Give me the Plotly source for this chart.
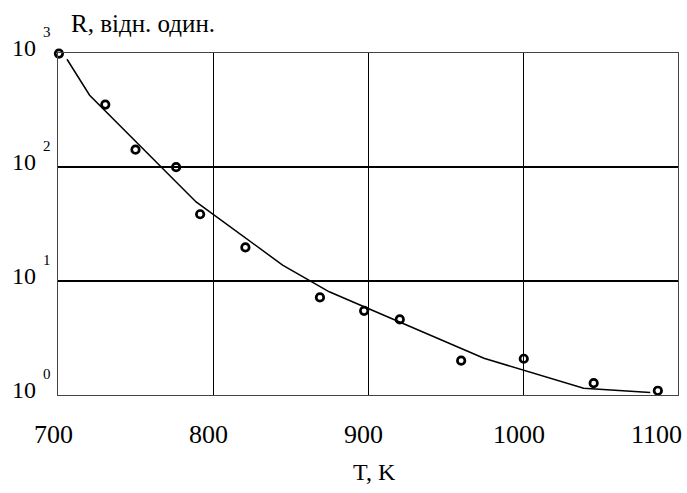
import math
import plotly.graph_objects as go

# measured points
T_meas = [700.6, 730.5, 750.0, 776.2, 791.7, 820.9, 869.0, 897.5, 920.5, 960.1, 1000.5, 1045.6, 1087.0]
R_meas = [988, 353, 142, 99.6, 38.5, 19.7, 7.18, 5.48, 4.6, 2.0, 2.08, 1.27, 1.09]
# fitted curve (polyline)
T_fit = [705.8, 720.4, 789.1, 844.9, 875.0, 974.8, 1039.1, 1082.1]
R_fit = [881, 426, 49.4, 13.8, 8.04, 2.10, 1.146, 1.05]

x_ticks = [700, 800, 900, 1000, 1100]
x_tick_labels = ["700", "800", "900", "1000", "1100"]
y_ticks = [1, 10, 100, 1000]
y_tick_base = ["10", "10", "10", "10"]
y_tick_exp = ["0", "1", "2", "3"]

FONT = "Liberation Serif"

fig = go.Figure()
fig.add_trace(go.Scatter(x=T_fit, y=R_fit, mode="lines",
                         line=dict(color="black", width=1.5), showlegend=False))
fig.add_trace(go.Scatter(x=T_meas, y=R_meas, mode="markers", cliponaxis=False,
                         marker=dict(symbol="circle-open", size=7.5, color="black",
                                     line=dict(color="black", width=2.7)),
                         showlegend=False))

annotations = []
for v, t in zip(x_ticks, x_tick_labels):
    last = (v == x_ticks[-1])
    annotations.append(dict(x=v, xref="x", y=-0.1154, yref="paper", text=t,
                            showarrow=False, xanchor="right" if last else "center",
                            xshift=6 if last else -4.5, yanchor="middle",
                            font=dict(family=FONT, size=26, color="black")))
for v, b, e in zip(y_ticks, y_tick_base, y_tick_exp):
    lv = math.log10(v)
    annotations.append(dict(x=0, xref="paper", y=lv, yref="y", text=b,
                            showarrow=False, xanchor="right", xshift=-20,
                            yanchor="middle", yshift=5,
                            font=dict(family=FONT, size=24, color="black")))
    annotations.append(dict(x=0, xref="paper", y=lv, yref="y", text=e,
                            showarrow=False, xanchor="left", xshift=-17,
                            yanchor="middle", yshift=21,
                            font=dict(family=FONT, size=15, color="black")))
annotations.append(dict(x=0.0185, xref="paper", y=1.087, yref="paper",
                        text="R, відн. один.", showarrow=False, xanchor="left",
                        yanchor="middle", font=dict(family=FONT, size=25, color="black")))
annotations.append(dict(x=0.5108, xref="paper", y=-0.2247, yref="paper",
                        text="T, K", showarrow=False, xanchor="center",
                        yanchor="middle", font=dict(family=FONT, size=24, color="black")))

fig.update_layout(
    width=687, height=493,
    margin=dict(l=58, r=9, t=53, b=98, pad=0),
    paper_bgcolor="white", plot_bgcolor="white",
    font=dict(family=FONT, color="black"),
    annotations=annotations,
    xaxis=dict(range=[700, 1100], tickvals=x_ticks, showticklabels=False,
               showgrid=True, gridcolor="black", gridwidth=1.2,
               showline=True, linecolor="#444", linewidth=1, mirror=True,
               ticks="", zeroline=False),
    yaxis=dict(type="log", range=[0, 3], tickvals=y_ticks, showticklabels=False,
               ticks="", showgrid=True, gridcolor="black", gridwidth=2,
               showline=True, linecolor="#444", linewidth=1, mirror=True,
               zeroline=False),
)

fig.write_html("out.html")
